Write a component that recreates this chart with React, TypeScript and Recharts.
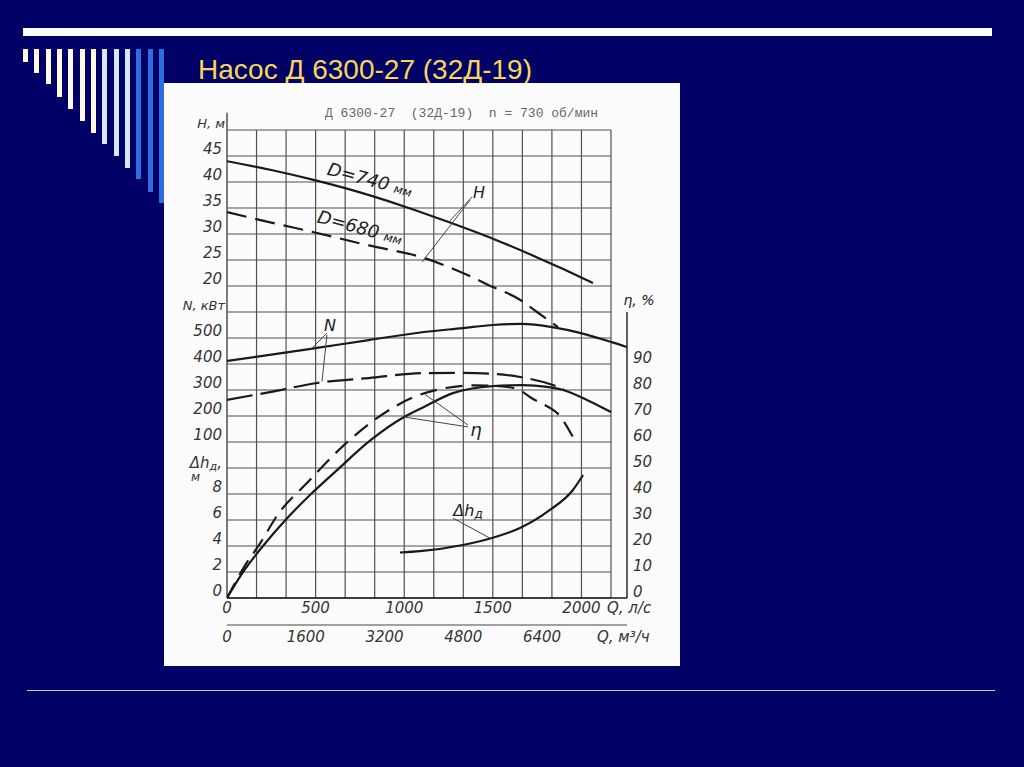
import React from 'react';
import { ComposedChart, Line, XAxis, YAxis, ReferenceLine, ReferenceDot, Label } from 'recharts';

// Q, л/с и значения кривых
const qH740 = [0, 250, 500, 750, 1000, 1250, 1500, 1750, 1900, 2065];
const hH740 = [44.0, 42.3, 40.3, 38.0, 35.3, 32.3, 29.1, 25.5, 23.2, 20.6];

const qH680 = [0, 250, 508, 800, 1111, 1331, 1501, 1636, 1749, 1868];
const hH680 = [34.2, 32.2, 30.2, 27.8, 25.4, 22.5, 19.8, 17.7, 15.0, 12.1];

const qN740 = [0, 250, 508, 800, 1111, 1331, 1501, 1664, 1834, 1997, 2167, 2257];
const nN740 = [412, 436, 462, 492, 523, 538, 550, 554, 542, 519, 485, 465];

const qN680 = [0, 250, 508, 800, 1111, 1300, 1501, 1653, 1839, 1900];
const nN680 = [262, 293, 327, 346, 365, 366, 362, 350, 319, 302];

const qEta740 = [0, 96, 209, 330, 474, 621, 812, 999, 1111, 1275, 1501, 1670, 1805, 1896, 2031, 2167];
const eta740 = [0, 10.5, 20.5, 30, 40, 49.2, 60.8, 69.6, 73.5, 78.8, 81.5, 81.9, 81.2, 80, 76.2, 71.5];

const qEta680 = [0, 96, 181, 293, 451, 660, 846, 1055, 1200, 1400, 1580, 1670, 1709, 1822, 1862, 1952];
const eta680 = [0, 11.9, 20.4, 32.7, 44.2, 58.8, 69.2, 77.3, 80.3, 81.8, 81.2, 79.2, 77.3, 73.1, 71.2, 61.9];

const qDh = [976, 1089, 1331, 1495, 1653, 1822, 1952, 2009];
const dhVals = [3.5, 3.6, 4.08, 4.62, 5.38, 6.77, 8.31, 9.46];

// подписи осей
const qTicks = [0, 500, 1000, 1500, 2000];
const m3Ticks = [0, 1600, 3200, 4800, 6400];
const etaTicks = [0, 10, 20, 30, 40, 50, 60, 70, 80, 90];
// левая шкала по линиям сетки снизу вверх
const leftLabels = ['0', '2', '4', '6', '8', 'Δh', '100', '200', '300', '400', '500', 'N, кВт', '20', '25', '30', '35', '40', '45', 'H, м'];

const GRID_ROWS = 18;
const GRID_COLS = 13;
const Q_CELL = 500 / 3;
const Q_MAX = 2257;

const INK = '#1a1a1a';
const GRID = '#505050';
const HAND = '"DejaVu Sans", sans-serif';

const pts = (qs: number[], vs: number[]) => qs.map((q, i) => ({ q, v: vs[i] }));

const txt = { fontFamily: HAND, fontStyle: 'italic', fill: '#333' } as const;

function LeftTick({ x, y, payload }: any) {
  const s = leftLabels[payload.value] ?? '';
  if (s === 'Δh') {
    return (
      <text x={x} y={y} textAnchor="end" fontSize={15} {...txt}>
        Δh<tspan fontSize={11} dy={2}>д</tspan><tspan dy={-2}>,</tspan>
        <tspan x={x - 22} dy={13} fontSize={12}>м</tspan>
      </text>
    );
  }
  const small = s.length > 3;
  return (
    <text x={small ? x + 3 : x} y={y - 2} textAnchor="end" fontSize={small ? 13 : 15} {...txt}>
      {s}
    </text>
  );
}

function RightTick({ x, y, payload }: any) {
  return (
    <text x={x} y={y - 1} textAnchor="start" fontSize={15} {...txt}>
      {payload.value}
    </text>
  );
}

function QTick({ x, y, payload }: any) {
  return (
    <text x={x} y={y + 15} textAnchor="middle" fontSize={15} {...txt}>
      {payload.value}
    </text>
  );
}

function M3Tick({ x, y, payload }: any) {
  return (
    <text x={x} y={y + 17} textAnchor="middle" fontSize={15} {...txt}>
      {payload.value}
    </text>
  );
}

const note = (content: React.ReactNode, dx = 0, dy = 0, rotate = 0, size = 16) => (p: any) => (
  <text
    x={p.cx + dx}
    y={p.cy + dy}
    textAnchor="middle"
    fontSize={size}
    transform={rotate ? `rotate(${rotate} ${p.cx} ${p.cy})` : undefined}
    {...txt}
    fill="#222"
  >
    {content}
  </text>
);

const leader = { stroke: '#444', strokeWidth: 1, ifOverflow: 'visible' as const };

const STRIPE_BOTTOMS = [62, 73, 84, 97, 109, 121, 133, 144, 156, 168, 179, 192, 203];
const STRIPE_COLORS = ['#fffbe3', '#fffbe3', '#fffbe3', '#fffbe3', '#fffbe3', '#fffbe3', '#fffbe3', '#d8e6ff', '#d8e6ff', '#d8e6ff', '#2a6ee0', '#2a6ee0', '#2a6ee0'];

export default function App() {
  return (
    <div style={{ position: 'absolute', left: 0, top: 0, width: 1024, height: 767, background: '#000066', overflow: 'hidden', fontFamily: '"Liberation Sans", Arial, sans-serif' }}>
      <div style={{ position: 'absolute', left: 23, top: 28, width: 969, height: 8, background: '#ffffff' }} />
      {STRIPE_BOTTOMS.map((b, i) => (
        <div key={i} style={{ position: 'absolute', left: 23 + i * 11.33, top: 49, width: 5, height: b - 49, background: STRIPE_COLORS[i] }} />
      ))}
      <div style={{ position: 'absolute', left: 198, top: 56, fontSize: 28, lineHeight: '28px', color: '#f8d65a', whiteSpace: 'nowrap' }}>
        Насос Д 6300-27 (32Д-19)
      </div>
      <div style={{ position: 'absolute', left: 27, top: 690, width: 968, height: 1, background: '#c8c8d8' }} />

      <div style={{ position: 'absolute', left: 164, top: 83, width: 516, height: 583, background: '#fcfcfc' }}>
        <div style={{ position: 'absolute', left: 161, top: 24, fontFamily: '"Liberation Mono", monospace', fontSize: 13, lineHeight: '13px', color: '#666', whiteSpace: 'pre' }}>
          Д 6300-27  (32Д-19)  n = 730 об/мин
        </div>
        <ComposedChart width={516} height={583} margin={{ top: 47, right: 8, bottom: 11, left: 0 }}>
          {/* м³/ч объявлена первой, чтобы шкала л/с легла ближе к сетке */}
          <XAxis xAxisId="b" type="number" dataKey="q" domain={[0, Q_MAX * 3.6]} allowDataOverflow ticks={m3Ticks} interval={0}
            height={30} tickSize={0} tickMargin={0} tickLine={false} axisLine={{ stroke: '#444', strokeWidth: 1.2 }} tick={M3Tick}>
            <Label content={(p: any) => (
              <text x={p.viewBox.x + p.viewBox.width - 30} y={p.viewBox.y + 17} fontSize={15} {...txt}>Q, м³/ч</text>
            )} />
          </XAxis>
          <XAxis xAxisId="a" type="number" dataKey="q" domain={[0, Q_MAX]} allowDataOverflow ticks={qTicks} interval={0}
            height={27} tickSize={0} tickMargin={0} tickLine={false} axisLine={{ stroke: INK, strokeWidth: 1.4 }} tick={QTick}>
            <Label content={(p: any) => (
              <text x={p.viewBox.x + p.viewBox.width - 20} y={p.viewBox.y + 15} fontSize={15} {...txt}>Q, л/с</text>
            )} />
          </XAxis>

          <YAxis yAxisId="g" type="number" domain={[0, GRID_ROWS]} allowDataOverflow width={63}
            ticks={leftLabels.map((_, i) => i)} interval={0} tickSize={0} tickMargin={5} tickLine={false} axisLine={false} tick={LeftTick} />
          <YAxis yAxisId="eta" orientation="right" type="number" domain={[0, 180]} allowDataOverflow width={45}
            ticks={etaTicks} interval={0} tickSize={0} tickMargin={6} tickLine={false} axisLine={false} tick={RightTick} />
          <YAxis yAxisId="H" hide width={0} type="number" domain={[-40, 50]} allowDataOverflow />
          <YAxis yAxisId="N" hide width={0} type="number" domain={[-500, 1300]} allowDataOverflow />
          <YAxis yAxisId="dh" hide width={0} type="number" domain={[0, 36]} allowDataOverflow />

          {/* сетка */}
          {Array.from({ length: GRID_ROWS + 1 }, (_, i) => (
            <ReferenceLine key={'h' + i} xAxisId="a" yAxisId="g" ifOverflow="visible"
              segment={[{ x: 0, y: i }, { x: GRID_COLS * Q_CELL, y: i }]} stroke={GRID} strokeWidth={1.2} />
          ))}
          {Array.from({ length: GRID_COLS + 1 }, (_, j) => (
            <ReferenceLine key={'v' + j} xAxisId="a" yAxisId="g" ifOverflow="visible"
              segment={[{ x: j * Q_CELL, y: 0 }, { x: j * Q_CELL, y: GRID_ROWS }]} stroke={GRID} strokeWidth={j === 0 ? 1.5 : 1.2} />
          ))}
          <ReferenceLine xAxisId="a" yAxisId="H" ifOverflow="visible" segment={[{ x: 0, y: 50 }, { x: 0, y: 53.3 }]} stroke={GRID} strokeWidth={1.5} />
          <ReferenceLine xAxisId="a" yAxisId="eta" ifOverflow="visible" segment={[{ x: Q_MAX, y: 0 }, { x: Q_MAX, y: 110 }]} stroke={INK} strokeWidth={1.4} />

          {/* кривые */}
          <Line data={pts(qH740, hH740)} xAxisId="a" yAxisId="H" dataKey="v" type="monotone" stroke={INK} strokeWidth={2.2} dot={false} isAnimationActive={false} />
          <Line data={pts(qH680, hH680)} xAxisId="a" yAxisId="H" dataKey="v" type="monotone" stroke={INK} strokeWidth={2.2} strokeDasharray="20 9" dot={false} isAnimationActive={false} />
          <Line data={pts(qN740, nN740)} xAxisId="a" yAxisId="N" dataKey="v" type="monotone" stroke={INK} strokeWidth={2.2} dot={false} isAnimationActive={false} />
          <Line data={pts(qN680, nN680)} xAxisId="a" yAxisId="N" dataKey="v" type="monotone" stroke={INK} strokeWidth={2.2} strokeDasharray="26 8" dot={false} isAnimationActive={false} />
          <Line data={pts(qEta740, eta740)} xAxisId="a" yAxisId="eta" dataKey="v" type="monotone" stroke={INK} strokeWidth={2.2} dot={false} isAnimationActive={false} />
          <Line data={pts(qEta680, eta680)} xAxisId="a" yAxisId="eta" dataKey="v" type="monotone" stroke={INK} strokeWidth={2.2} strokeDasharray="17 9" dot={false} isAnimationActive={false} />
          <Line data={pts(qDh, dhVals)} xAxisId="a" yAxisId="dh" dataKey="v" type="monotone" stroke={INK} strokeWidth={2.2} dot={false} isAnimationActive={false} />

          {/* выноски */}
          <ReferenceLine xAxisId="a" yAxisId="H" segment={[{ x: 1382, y: 37.1 }, { x: 1252, y: 32.3 }]} {...leader} />
          <ReferenceLine xAxisId="a" yAxisId="H" segment={[{ x: 1371, y: 36.5 }, { x: 1100, y: 24.6 }]} {...leader} />
          <ReferenceLine xAxisId="a" yAxisId="N" segment={[{ x: 564, y: 519 }, { x: 474, y: 457 }]} {...leader} />
          <ReferenceLine xAxisId="a" yAxisId="N" segment={[{ x: 564, y: 512 }, { x: 536, y: 333 }]} {...leader} />
          <ReferenceLine xAxisId="a" yAxisId="eta" segment={[{ x: 1360, y: 65.8 }, { x: 999, y: 69.6 }]} {...leader} />
          <ReferenceLine xAxisId="a" yAxisId="eta" segment={[{ x: 1360, y: 66.5 }, { x: 1117, y: 78.3 }]} {...leader} />
          <ReferenceLine xAxisId="a" yAxisId="dh" segment={[{ x: 1275, y: 6.15 }, { x: 1484, y: 4.6 }]} {...leader} />

          <ReferenceDot xAxisId="a" yAxisId="H" x={807} y={40.4} r={0} ifOverflow="visible"
            shape={note(<>D=740 <tspan fontSize={12}>мм</tspan></>, 0, 6, 15, 18)} />
          <ReferenceDot xAxisId="a" yAxisId="H" x={750} y={31.2} r={0} ifOverflow="visible"
            shape={note(<>D=680 <tspan fontSize={12}>мм</tspan></>, 0, 6, 15, 18)} />
          <ReferenceDot xAxisId="a" yAxisId="H" x={1422} y={38.1} r={0} ifOverflow="visible" shape={note('H', 0, 6)} />
          <ReferenceDot xAxisId="a" yAxisId="N" x={581} y={550} r={0} ifOverflow="visible" shape={note('N', 0, 6)} />
          <ReferenceDot xAxisId="a" yAxisId="eta" x={1405} y={64.6} r={0} ifOverflow="visible" shape={note('η', 0, 6, 0, 18)} />
          <ReferenceDot xAxisId="a" yAxisId="dh" x={1360} y={6.8} r={0} ifOverflow="visible"
            shape={note(<>Δh<tspan fontSize={12} dy={2}>д</tspan></>, 0, 6)} />
          <ReferenceDot xAxisId="a" yAxisId="eta" x={Q_MAX} y={114.6} r={0} ifOverflow="visible"
            shape={note('η, %', 12, 5, 0, 14)} />
        </ComposedChart>
      </div>
    </div>
  );
}
